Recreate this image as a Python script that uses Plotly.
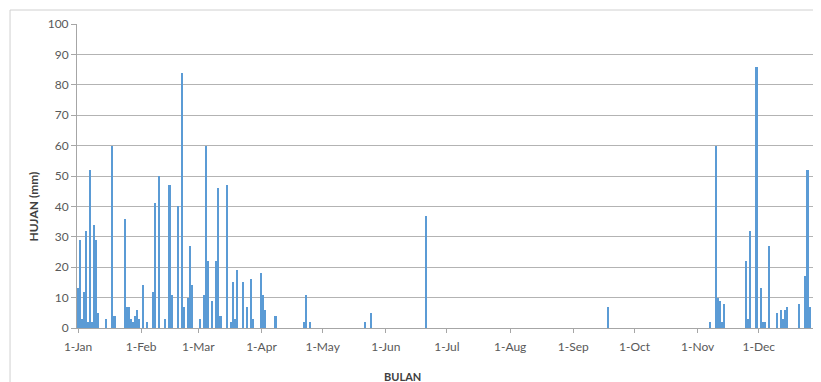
import datetime as dt
import plotly.graph_objects as go

# Day of year (0 = 1 Jan) and daily rainfall (mm)
rain_days = [0, 1, 2, 3, 4, 5, 6, 7, 8, 9, 10, 14, 17, 18, 23, 24, 25, 26, 27, 28, 29, 30, 32, 34,
             37, 38, 40, 43, 45, 46, 49, 51, 52, 54, 55, 56, 60, 62, 63, 64, 66, 68, 69, 70,
             73, 75, 76, 77, 78, 81, 83, 85, 86, 90, 91, 92, 97,
             111, 112, 114, 141, 144, 171, 260,
             310, 313, 314, 315, 316, 317, 328, 329, 330, 333, 335, 336, 337, 339,
             343, 345, 346, 347, 348, 354, 357, 358, 359]
rain_mm = [13, 29, 3, 12, 32, 2, 52, 2, 34, 29, 5, 3, 60, 4, 36, 7, 7, 3, 2, 4, 6, 3, 14, 2,
           12, 41, 50, 3, 47, 11, 40, 84, 7, 10, 27, 14, 3, 11, 60, 22, 9, 22, 46, 4,
           47, 2, 15, 3, 19, 15, 7, 16, 3, 18, 11, 6, 4,
           2, 11, 2, 2, 5, 37, 7,
           2, 60, 10, 9, 2, 8, 22, 3, 32, 86, 13, 2, 2, 27,
           5, 6, 3, 6, 7, 8, 17, 52, 7]
year = 2019
y_ticks = list(range(0, 101, 10))
x_title = "BULAN"
y_title = "HUJAN (mm)"

start = dt.datetime(year, 1, 1)
dates = [start + dt.timedelta(days=d) for d in rain_days]

fig = go.Figure()
fig.add_trace(go.Bar(
    x=dates, y=rain_mm,
    width=86400000 * 0.8,
    marker=dict(color="#5b9bd5", line=dict(width=0)),
))

fig.update_layout(
    width=813, height=374,
    margin=dict(l=69, r=0, t=16, b=54),
    paper_bgcolor="white", plot_bgcolor="white",
    showlegend=False,
    bargap=0,
    font=dict(family="Lato, Open Sans, sans-serif", size=12, color="#595959"),
    shapes=[dict(type="rect", xref="paper", yref="paper",
                 x0=-0.09, x1=1.02, y0=-0.3, y1=1.046,
                 line=dict(color="#d0d0d0", width=1), fillcolor="rgba(0,0,0,0)",
                 layer="below")],
    annotations=[
        dict(text="<b>%s</b>" % x_title, xref="paper", yref="paper",
             x=0.437, y=-0.161, xanchor="center", yanchor="middle",
             showarrow=False, font=dict(size=11, color="#404040")),
        dict(text="<b>%s</b>" % y_title, xref="paper", yref="paper",
             x=-0.059, y=0.40, xanchor="center", yanchor="middle", textangle=-90,
             showarrow=False, font=dict(size=12, color="#404040")),
    ],
)

fig.update_xaxes(
    type="date",
    range=[start - dt.timedelta(hours=12), start + dt.timedelta(days=364, hours=12)],
    tick0=start, dtick="M1", tickformat="%-d-%b",
    ticks="outside", ticklen=4, tickcolor="#a6a6a6",
    ticklabelstandoff=4,
    showline=True, linecolor="#a6a6a6", linewidth=1,
    showgrid=False, zeroline=False,
    tickfont=dict(size=12, color="#595959"),
)
fig.update_yaxes(
    range=[0, 100], tickvals=y_ticks,
    ticks="outside", ticklen=5, tickcolor="#a6a6a6",
    showline=True, linecolor="#a6a6a6", linewidth=1,
    showgrid=True, gridcolor="#b3b3b3", gridwidth=1,
    zeroline=False,
    tickfont=dict(size=12, color="#595959"),
)

fig.write_html("out.html")
